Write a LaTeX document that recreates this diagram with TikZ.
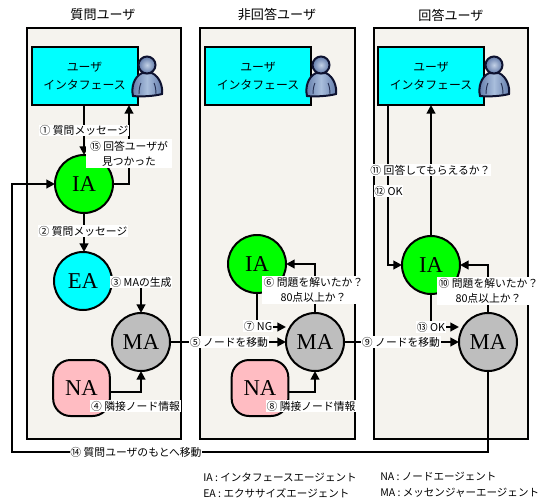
\documentclass[tikz,border=0pt]{standalone}
\usepackage{fontspec}
\setmainfont{Noto Sans CJK JP}
\newfontfamily\abfont{Liberation Serif}
\usetikzlibrary{arrows.meta,calc}
\definecolor{panelfill}{HTML}{F5F3EE}
\definecolor{nafill}{HTML}{FFBCC2}
\definecolor{magray}{HTML}{BEBEBE}
\definecolor{pblue}{HTML}{A9BEDC}
\definecolor{pdark}{HTML}{5F78A8}
\definecolor{pline}{HTML}{0E1230}
\definecolor{aqua}{HTML}{00FFFF}
\definecolor{lime}{HTML}{00FF00}
\tikzset{
  panel/.style={draw=black,line width=1.6pt,fill=panelfill},
  uibox/.style={draw=black,line width=1.5pt,fill=aqua,minimum width=79.5pt,minimum height=43.5pt,inner sep=0pt,outer sep=0pt,align=center,font=\fontsize{8.9}{13.5}\selectfont},
  agent/.style={circle,draw=black,line width=1.5pt,minimum size=43.5pt,inner sep=0pt,outer sep=0pt,font=\abfont\fontsize{17}{17}\selectfont},
  nabox/.style={rectangle,rounded corners=13pt,draw=black,line width=1.5pt,fill=nafill,minimum width=42.5pt,minimum height=42pt,inner sep=0pt,outer sep=0pt,font=\abfont\fontsize{17}{17}\selectfont},
  conn/.style={draw=black,line width=1.5pt},
  arr/.style={conn,-{Triangle[length=6.5pt,width=6.5pt]}},
  lab/.style={fill=white,inner sep=0.6pt,align=center,font=\fontsize{8.1}{11.2}\selectfont},
  title/.style={font=\fontsize{9.8}{10}\selectfont,inner sep=0pt},
  legend/.style={anchor=west,inner sep=0pt,font=\fontsize{7.9}{10}\selectfont},
  person/.pic={
    \draw[pline,line width=1.5pt,left color=pdark,right color=pdark,middle color=pblue]
      (-14,31) .. controls (-16,22) and (-13,12) .. (-5,8) -- (5,8) .. controls (13,12) and (16,22) .. (15,29)
      .. controls (8,31) and (-6,32) .. (-14,31) -- cycle;
    \draw[pline!70!pdark,line width=0.7pt] (-8,29) .. controls (-8,24) and (-7,20) .. (-6,18);
    \draw[pline!70!pdark,line width=0.7pt] (9,29) .. controls (9,24) and (8,20) .. (7,18);
    \draw[pline,line width=1.5pt,inner color=pblue!70!white,outer color=pdark] (0,0) circle[radius=8.5];
  }
}
\begin{document}
\begin{tikzpicture}[x=0.75pt,y=-0.75pt]
\useasboundingbox (0,0) rectangle (547,501);
\fill[white] (0,0) rectangle (547,501);
% panels
\draw[panel] (27,28) rectangle (181,439);
\draw[panel] (200,28) rectangle (355,439);
\draw[panel] (374,28) rectangle (528,439);
% titles
\node[title] (t1) at (103,15) {質問ユーザ};
\node[title] (t2) at (277,15) {非回答ユーザ};
\node[title] (t3) at (451,15) {回答ユーザ};
% interface boxes
\node[uibox] (ui1) at (84.5,76) {ユーザ\\インタフェース};
\node[uibox] (ui2) at (258,76) {ユーザ\\インタフェース};
\node[uibox] (ui3) at (431,76) {ユーザ\\インタフェース};
\pic at (147,65) {person};
\pic at (321,65) {person};
\pic at (494,65) {person};
% agents
\node[agent,fill=lime] (ia1) at (84,184) {IA};
\node[agent,fill=aqua] (ea1) at (83,281) {EA};
\node[agent,fill=magray] (ma1) at (141,342) {MA};
\node[nabox] (na1) at (81.5,388) {NA};
\node[agent,fill=lime] (ia2) at (257,264) {IA};
\node[agent,fill=magray] (ma2) at (315,342) {MA};
\node[nabox] (na2) at (260,388) {NA};
\node[agent,fill=lime] (ia3) at (431,265) {IA};
\node[agent,fill=magray] (ma3) at (488,342) {MA};
% connectors, first user
\draw[arr] (ia1.north |- ui1.south) -- (ia1.north);
\draw[arr] (ia1.east) -| (129,105);
\draw[arr] (ia1.south) -- (ia1.south |- ea1.north);
\draw[arr] (ea1.east) -| (ma1.north);
\draw[arr] ($(na1.east)+(0,4)$) -| (ma1.south);
\draw[arr] (ma1.east) -- (ma2.west);
% second user
\draw[arr] (ma2.north) |- (ia2.east);
\draw[arr] (ia2.south) |- (ma2.west |- 0,327) ;
\draw[arr] ($(na2.east)+(0,4)$) -| (ma2.south);
\draw[arr] (ma2.east) -- (ma3.west);
% third user
\draw[arr] (ma3.north) |- (ia3.east);
\draw[arr] (ia3.south) |- (ma3.west |- 0,327);
\draw[arr] (388,105) |- (ia3.west);
\draw[arr] (ia3.north) -- (ia3.north |- ui3.south);
\draw[arr] (ma3.south) |- (12,452) |- (ia1.west);
% labels
\node[lab] (l1) at (84,130.5) {① 質問メッセージ};
\node[lab,minimum width=64.5pt,minimum height=21.5pt] (l15) at (129,153.5) {⑮ 回答ユーザが\\見つかった};
\node[lab] (l2) at (83,231) {② 質問メッセージ};
\node[lab] (l3) at (141,282) {③ MAの生成};
\node[lab] (l4) at (135.5,406) {④ 隣接ノード情報};
\node[lab] (l5) at (229,342) {⑤ ノードを移動};
\node[lab,minimum width=78pt,minimum height=21pt] (l6) at (313.5,290) {⑥ 問題を解いたか？\\80点以上か？};
\node[lab] (l7) at (258,326) {⑦ NG};
\node[lab] (l8) at (311,406) {⑧ 隣接ノード情報};
\node[lab] (l9) at (401,342) {⑨ ノードを移動};
\node[lab,minimum width=78pt,minimum height=21pt] (l10) at (488.5,291) {⑩ 問題を解いたか？\\80点以上か？};
\node[lab] (l11) at (430.5,170) {⑪ 回答してもらえるか？};
\node[lab] (l12) at (388.5,191) {⑫ OK};
\node[lab] (l13) at (431,327) {⑬ OK};
\node[lab] (l14) at (136,452) {⑭ 質問ユーザのもとへ移動};
% legend
\node[legend] (k1) at (203,477) {IA : インタフェースエージェント};
\node[legend] (k2) at (203,493) {EA : エクササイズエージェント};
\node[legend] (k3) at (380,477) {NA : ノードエージェント};
\node[legend] (k4) at (380,493) {MA : メッセンジャーエージェント};
\end{tikzpicture}
\end{document}
